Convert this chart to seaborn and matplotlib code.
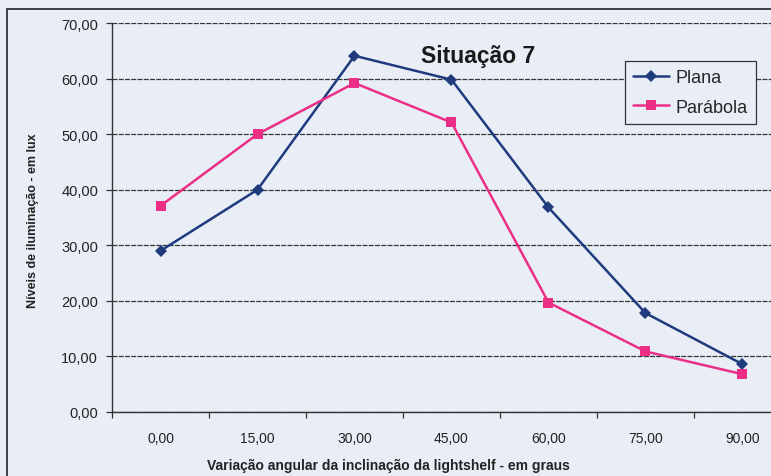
import matplotlib
matplotlib.use("Agg")
import matplotlib.pyplot as plt
from matplotlib.patches import Rectangle
from matplotlib.ticker import FixedLocator, FuncFormatter
import numpy as np
import pandas as pd
import seaborn as sns

# Angular variation of the lightshelf (degrees) and illuminance levels (lux)
angulos = ["0,00", "15,00", "30,00", "45,00", "60,00", "75,00", "90,00"]
plana = [29.0, 40.0, 64.1, 59.8, 36.8, 17.8, 8.6]
parabola = [37.1, 50.0, 59.2, 52.1, 19.7, 10.9, 6.8]
y_ticks = [0, 10, 20, 30, 40, 50, 60, 70]

bg = "#e9eef6"
sns.set_theme(style="white")
plt.rcParams["font.family"] = ["Liberation Sans", "DejaVu Sans"]

pos = np.arange(len(angulos))
df = pd.DataFrame({
    "pos": np.concatenate([pos, pos]),
    "lux": plana + parabola,
    "serie": ["Plana"] * len(pos) + ["Parábola"] * len(pos),
})

fig = plt.figure(figsize=(7.71, 4.77), dpi=100)
fig.patch.set_facecolor(bg)
W, H = 771, 477
ax = fig.add_axes([112 / W, (H - 413) / H, 679 / W, 389 / H])
ax.set_facecolor(bg)

palette = {"Plana": "#1f3b7d", "Parábola": "#ec2f86"}
sns.lineplot(data=df, x="pos", y="lux", hue="serie", style="serie",
             markers={"Plana": "D", "Parábola": "s"}, dashes=False,
             palette=palette, linewidth=1.8, markersize=6.5,
             markeredgewidth=0, ax=ax)

ax.set_xlim(-0.5, len(angulos) - 0.5)
ax.set_ylim(0, 70)

# y axis
ax.set_yticks(y_ticks)
ax.yaxis.set_major_formatter(FuncFormatter(lambda v, p: f"{v:.2f}".replace(".", ",")))
ax.grid(axis="y", color="#333333", linewidth=0.9, linestyle=(0, (4, 1)))
ax.tick_params(axis="y", which="major", direction="out", length=4, width=0.9,
               color="#333333", labelsize=10.5, pad=6, left=True, labelcolor="#222222")

# category x axis: labels centred, ticks between categories
ax.set_xticks(pos)
ax.set_xticklabels(angulos)
ax.xaxis.set_minor_locator(FixedLocator(np.arange(-0.5, len(angulos), 1.0)))
ax.tick_params(axis="x", which="major", length=0, labelsize=10, pad=14,
               labelcolor="#222222")
ax.tick_params(axis="x", which="minor", direction="out", length=4, width=0.9,
               color="#333333", bottom=True)

for side in ["top", "right"]:
    ax.spines[side].set_visible(False)
for side in ["left", "bottom"]:
    ax.spines[side].set_color("#333333")
    ax.spines[side].set_linewidth(1.0)

ax.set_xlabel("Variação angular da inclinação da lightshelf - em graus",
              fontsize=10, fontweight="bold", labelpad=12, color="#222222")
ax.xaxis.set_label_coords((388 - 112) / 679, -(466 - 413) / 389)
ax.xaxis.label.set_va("center")
ax.set_ylabel("Níveis de iluminação - em lux", fontsize=9,
              fontweight="bold", labelpad=12, color="#222222")
ax.yaxis.set_label_coords(-(112 - 33) / 679, (413 - 221) / 389)
ax.yaxis.label.set_va("center")

ax.text((478 - 112) / 679, (413 - 57) / 389, "Situação 7", transform=ax.transAxes,
        ha="center", va="center", fontsize=16.5, fontweight="bold", color="#1a1a1a")

handles, labels = ax.get_legend_handles_labels()
leg = ax.legend(handles, labels, loc="upper left",
                bbox_to_anchor=((625 - 112) / 679, (413 - 62) / 389),
                borderaxespad=0, fontsize=13, frameon=True, fancybox=False,
                handlelength=2.0, handletextpad=0.35, borderpad=0.45,
                labelspacing=0.7)
leg.get_frame().set_edgecolor("#333333")
leg.get_frame().set_facecolor(bg)
leg.get_frame().set_linewidth(0.9)
leg.get_frame().set_alpha(1)

# chart-area border
fig.add_artist(Rectangle((7 / W, -0.05), 1.0, (H - 10) / H + 0.05,
                         transform=fig.transFigure, fill=False,
                         edgecolor="#222222", linewidth=1.2, clip_on=False))

fig.savefig("out.png", dpi=100, facecolor=bg)
